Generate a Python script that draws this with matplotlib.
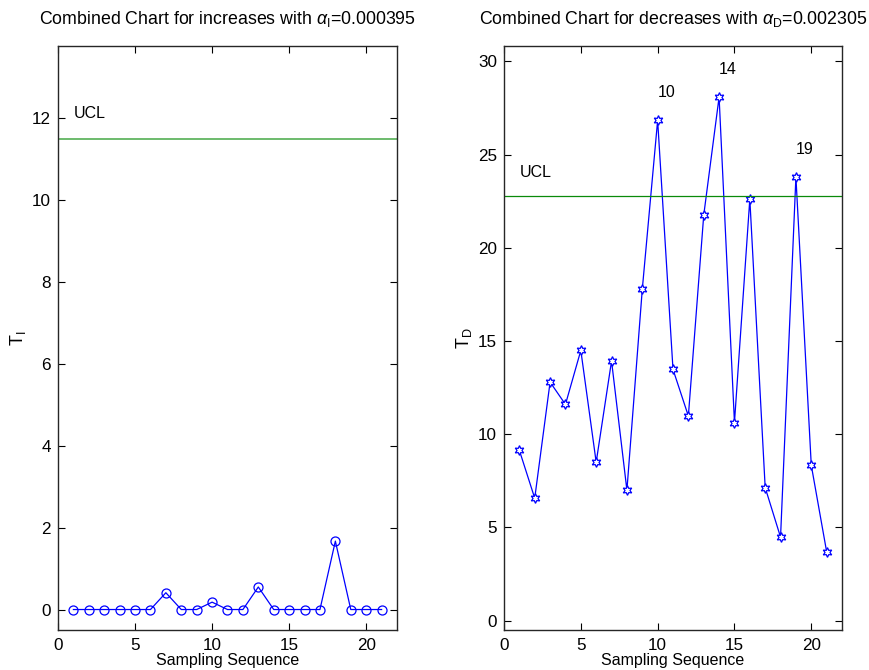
import matplotlib
matplotlib.use("Agg")
import matplotlib.pyplot as plt

plt.rcParams['font.family'] = ['Liberation Sans', 'DejaVu Sans']
plt.rcParams['mathtext.fontset'] = 'custom'
plt.rcParams['mathtext.rm'] = 'Liberation Sans'
plt.rcParams['mathtext.it'] = 'Liberation Sans:italic'

samples = list(range(1, 22))
t_inc = [0, 0, 0, 0, 0, 0, 0.41, 0, 0, 0.18, 0, 0, 0.55, 0, 0, 0, 0, 1.67, 0, 0, 0]
t_dec = [9.14, 6.57, 12.8, 11.6, 14.5, 8.5, 13.93, 7.0, 17.77, 26.84, 13.48, 10.98,
         21.75, 28.09, 10.63, 22.62, 7.14, 4.48, 23.8, 8.34, 3.7]
ucl_inc = 11.5
ucl_dec = 22.77
flagged = [10, 14, 19]
xticks = [0, 5, 10, 15, 20]
yticks_inc = [0, 2, 4, 6, 8, 10, 12]
yticks_dec = [0, 5, 10, 15, 20, 25, 30]

fig = plt.figure(figsize=(8.7, 6.7), dpi=100)
ax1 = fig.add_axes([58/870, 40/670, 339/870, 584/670])
ax2 = fig.add_axes([504/870, 40/670, 338/870, 584/670])

blue = '#0000ff'
fs = 11.5
tfs = 12.8
tickfs = 12.3

# Left panel
ax1.plot(samples, t_inc, color=blue, lw=0.9, marker='o', ms=6.5,
         mfc='none', mec=blue, mew=0.9)
ax1.axhline(ucl_inc, color='#6cbb6c', lw=1.4)
ax1.text(1, ucl_inc + 0.6, 'UCL', fontsize=fs, ha='left', va='center')
ax1.set_xlim(0, 22)
ax1.set_ylim(-0.5, 13.76)
ax1.set_xticks(xticks)
ax1.set_yticks(yticks_inc)
ax1.set_title(r'Combined Chart for increases with $\alpha_{\mathrm{I}}$=0.000395', fontsize=tfs, pad=16)
ax1.set_xlabel('Sampling Sequence', fontsize=fs, labelpad=0)
ax1.set_ylabel(r'T$_{\mathrm{I}}$', fontsize=13, labelpad=3)

# Right panel
ax2.plot(samples, t_dec, color=blue, lw=0.9, marker=(6, 1, 0), ms=7,
         mfc='white', mec=blue, mew=0.9)
ax2.axhline(ucl_dec, color='#0a8a0a', lw=0.9)
ax2.text(1, ucl_dec + 1.3, 'UCL', fontsize=fs, ha='left', va='center')
for i in flagged:
    ax2.text(i, t_dec[i - 1] + 1.5, str(i), fontsize=fs, ha='left', va='center')
ax2.set_xlim(0, 22)
ax2.set_ylim(-0.5, 30.83)
ax2.set_xticks(xticks)
ax2.set_yticks(yticks_dec)
ax2.set_title(r'Combined Chart for decreases with $\alpha_{\mathrm{D}}$=0.002305', fontsize=tfs, pad=16)
ax2.set_xlabel('Sampling Sequence', fontsize=fs, labelpad=0)
ax2.set_ylabel(r'T$_{\mathrm{D}}$', fontsize=13, labelpad=3)

for ax in (ax1, ax2):
    ax.tick_params(direction='in', top=True, right=True, length=5, width=0.8,
                   labelsize=tickfs, pad=5)
    ax.tick_params(axis='x', pad=6)
    for s in ax.spines.values():
        s.set_linewidth(1.0)
        s.set_color('#262626')

fig.savefig('out.png', dpi=100)
